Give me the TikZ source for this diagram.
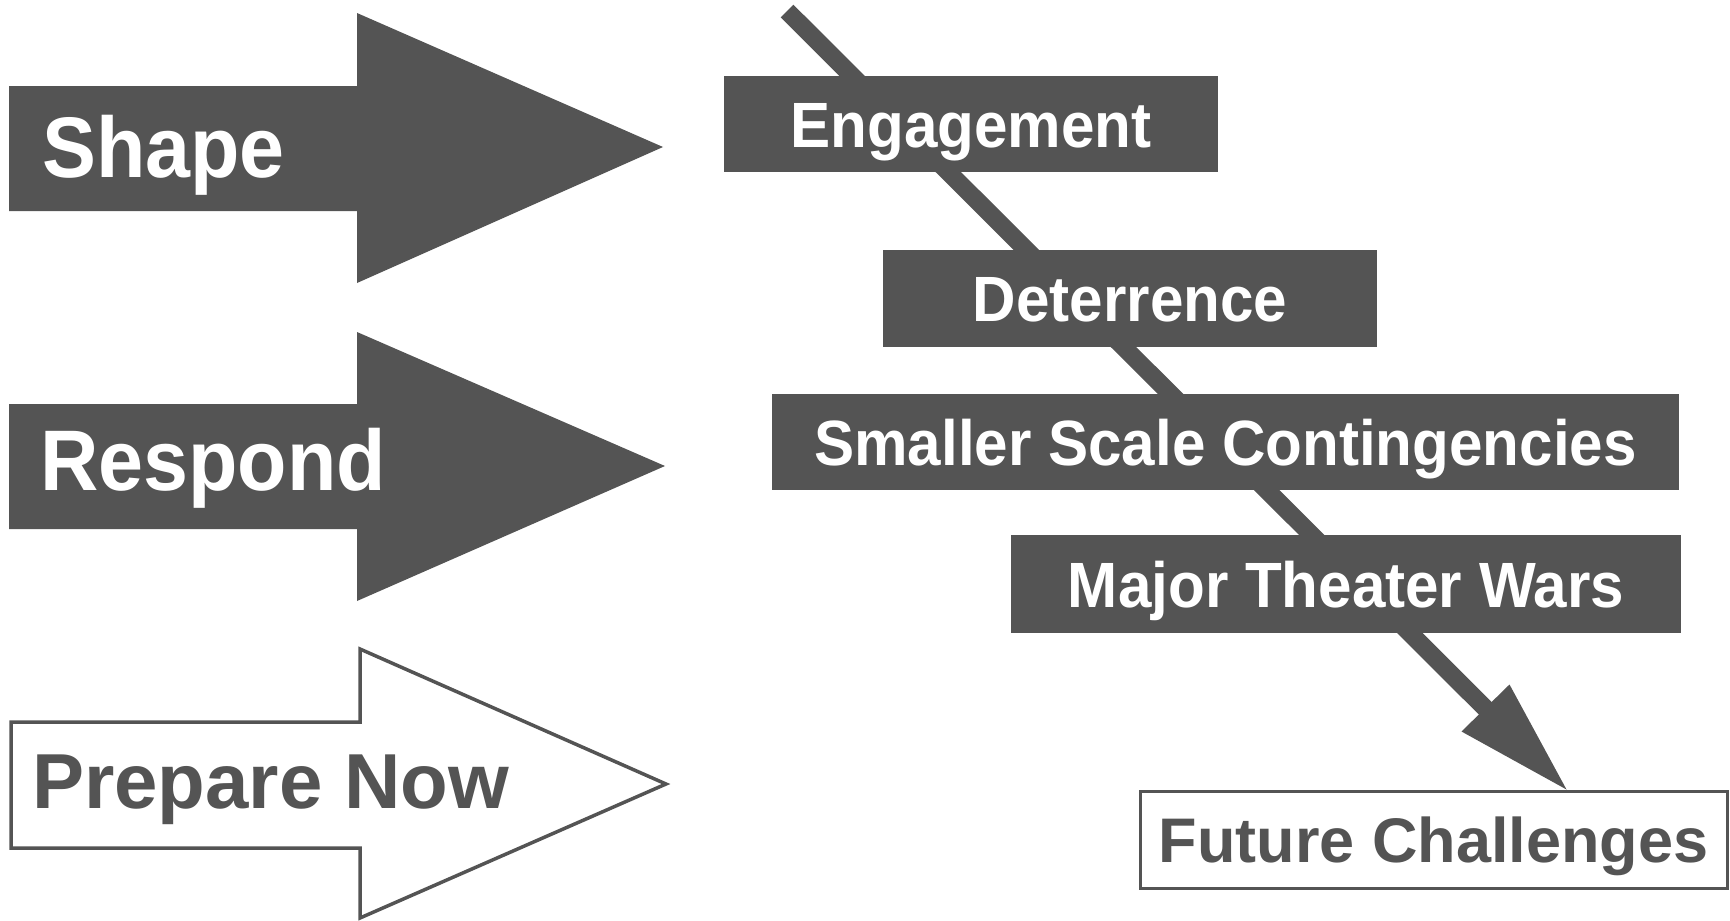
\documentclass[tikz,border=0pt]{standalone}
\usepackage{fontspec}
\setmainfont{Liberation Sans}
\newfontfamily\condsans{Liberation Sans}[FakeStretch=0.94]
\usetikzlibrary{calc,backgrounds}
\definecolor{ink}{HTML}{545454}

\begin{document}
\begin{tikzpicture}[x=1pt,y=-1pt,
  solidarrow/.style={fill=ink},
  hollowarrow/.style={draw=ink, line width=3.5pt, fill=white, line join=miter},
  arrowlabel/.style={anchor=base west, inner sep=0pt, text=white,
    font=\condsans\bfseries\fontsize{86}{86}\selectfont},
  hollowlabel/.style={anchor=base west, inner sep=0pt, text=ink,
    font=\bfseries\fontsize{78}{78}\selectfont},
  stagebox/.style={rectangle, fill=ink, inner sep=0pt, text=white,
    text height=46pt, text depth=0pt,
    font=\condsans\bfseries\fontsize{64}{64}\selectfont},
  goalbox/.style={rectangle, draw=ink, line width=3pt, fill=white, inner sep=0pt,
    text=ink, text height=45pt, text depth=0pt,
    font=\bfseries\fontsize{63}{63}\selectfont},
  path/.style={ink, line width=18pt, line cap=butt}]
\useasboundingbox (0,0) rectangle (1730,921);

% three block arrows on the left
\fill[solidarrow] (9,86) -- (357,86) -- (357,13) -- (663,147)
  -- (357,283) -- (357,211) -- (9,211) -- cycle;
\fill[solidarrow] (9,404) -- (357,404) -- (357,332) -- (665,466)
  -- (357,601) -- (357,529) -- (9,529) -- cycle;
\draw[hollowarrow] (11,722) -- (360,722) -- (360,649) -- (666,784)
  -- (360,918) -- (360,848) -- (11,848) -- cycle;

\node[arrowlabel] (shape) at (42,177) {Shape};
\node[arrowlabel] (respond) at (40,490) {Respond};
\node[hollowlabel] (prepare) at (32,808) {Prepare Now};

% stages along the diagonal
\node[stagebox, minimum width=494pt, minimum height=96pt] (eng) at (971,124) {Engagement};
\node[stagebox, minimum width=494pt, minimum height=97pt] (det) at (1130,298.5) {Deterrence};
\node[stagebox, minimum width=907pt, minimum height=96pt] (ssc) at (1225.5,442) {Smaller Scale Contingencies};
\node[stagebox, minimum width=670pt, minimum height=98pt] (mtw) at (1346,584) {Major Theater Wars};
\node[goalbox, minimum width=587pt, minimum height=97pt] (fut) at (1433.5,839.5) {Future Challenges};

% diagonal arrow running behind the stages down to the goal box
\coordinate (start) at (787,11);
\coordinate (tip) at ($(fut.north west)+(428,0)$);
\begin{scope}[on background layer]
  \draw[path] (start) -- ($(tip)+(-76,-76)$);
\end{scope}
\fill[ink] (tip) -- ($(tip)+(-105,-58)$) -- ($(tip)+(-57,-105)$) -- cycle;
\end{tikzpicture}
\end{document}
